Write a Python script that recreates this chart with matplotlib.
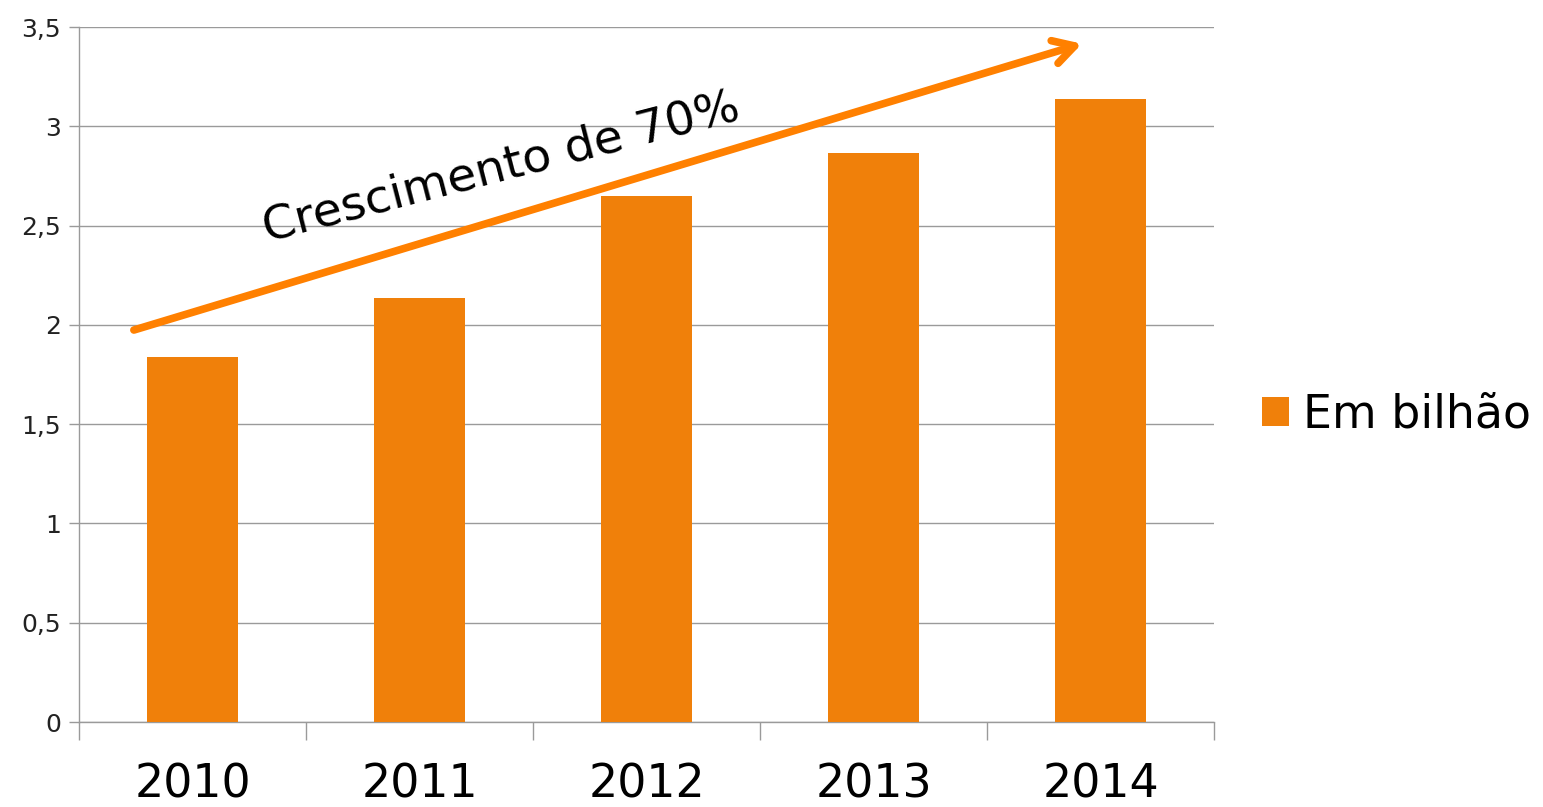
import matplotlib.pyplot as plt
from matplotlib.patches import Patch
from matplotlib.ticker import FixedLocator, FuncFormatter
import numpy as np

years = ['2010', '2011', '2012', '2013', '2014']
valores = [1.84, 2.135, 2.65, 2.865, 3.14]
serie = 'Em bilhão'
anotacao = 'Crescimento de 70%'

laranja = '#F0800A'
cinza = '#9A9A9A'

fig = plt.figure(figsize=(15.43, 8.07), dpi=100)
ax = fig.add_axes([0.0512, 0.1053, 0.7356, 0.8612])

x = np.arange(len(years))
ax.bar(x, valores, width=0.4, color=laranja, zorder=3)

ax.set_xlim(-0.5, len(years) - 0.5)
ax.set_ylim(0, 3.5)

# y axis, comma decimals
ax.set_yticks(np.arange(0, 3.51, 0.5))
ax.yaxis.set_major_formatter(FuncFormatter(lambda v, p: ('%g' % v).replace('.', ',')))
ax.tick_params(axis='y', length=7, width=1, color=cinza, labelsize=18, pad=6, labelcolor='#222222')
ax.grid(axis='y', color=cinza, lw=1, zorder=0)

# x axis: ticks on category boundaries, labels in the centers
ax.xaxis.set_major_locator(FixedLocator(np.arange(-0.5, len(years), 1.0)))
ax.xaxis.set_major_formatter(FuncFormatter(lambda v, p: ''))
ax.xaxis.set_minor_locator(FixedLocator(x))
ax.set_xticklabels(years, minor=True)
ax.tick_params(axis='x', which='major', length=13, width=1, color=cinza)
ax.tick_params(axis='x', which='minor', length=0, labelsize=33, pad=29)

for s in ['top', 'right']:
    ax.spines[s].set_visible(False)
for s in ['left', 'bottom']:
    ax.spines[s].set_color(cinza)
    ax.spines[s].set_linewidth(1)

# growth arrow
ax.annotate('', xy=(3.93, 3.42), xytext=(-0.27, 1.97),
            arrowprops=dict(arrowstyle='->,head_length=1.5,head_width=0.85',
                            color='#FF8000', lw=5.5, capstyle='round'),
            zorder=5, annotation_clip=False)
ax.text(1.36, 2.79, anotacao, fontsize=34, rotation=14.5,
        ha='center', va='center', rotation_mode='anchor', zorder=6)

handles = [Patch(facecolor=laranja, edgecolor='none')]
fig.legend(handles, [serie], loc='center left', bbox_to_anchor=(0.803, 0.486),
           frameon=False, fontsize=33, handlelength=0.6, handleheight=0.6,
           handletextpad=0.3, borderpad=0)

fig.savefig('out.png', dpi=100)
